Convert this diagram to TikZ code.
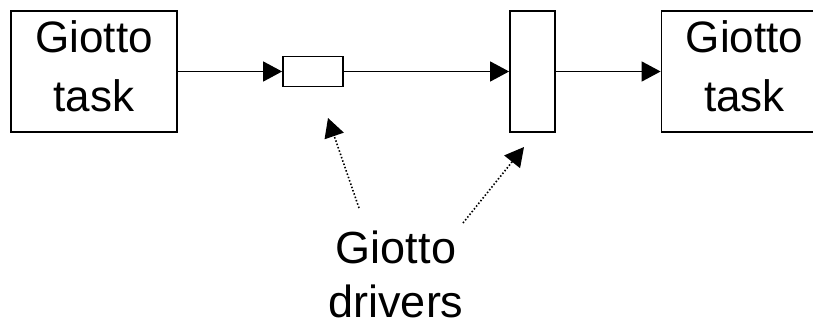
\documentclass[tikz,border=0pt]{standalone}
\usepackage{fontspec}
\setmainfont{Liberation Sans}
\usetikzlibrary{arrows.meta}

\begin{document}
\begin{tikzpicture}[x=1pt,y=1pt,
  taskbox/.style={draw, line width=1.8pt, minimum width=166pt, minimum height=121pt,
    inner sep=0pt, align=center, text depth=10pt, font=\fontsize{44}{59}\selectfont},
  drvbox/.style={draw, line width=1.8pt, inner sep=0pt},
  flow/.style={line width=1.6pt, -{Triangle[length=19pt,width=20pt]}},
  pointer/.style={line width=1.6pt, dash pattern=on 1.5pt off 2pt,
    -{Triangle[length=19pt,width=20pt]}},
  caption/.style={inner sep=0pt, align=center, font=\fontsize{45}{54}\selectfont}]
  \useasboundingbox (0,0) rectangle (813,-323);
  \clip (0,0) rectangle (813,-323);

  % tasks and drivers along the data path
  \node[taskbox] (src) at (94,-71.5) {Giotto\\task};
  \node[drvbox, minimum width=60pt, minimum height=30pt] (drvA) at (313,-71.5) {};
  \node[drvbox, minimum width=45pt, minimum height=121pt] (drvB) at (532.5,-71.5) {};
  \node[taskbox] (dst) at (744.5,-71.5) {Giotto\\task};

  \draw[flow] (src.east) -- (drvA.west);
  \draw[flow] (drvA.east) -- (drvB.west);
  \draw[flow] (drvB.east) -- (dst.west);

  % caption with dotted pointers to the drivers
  \node[caption] (lbl) at (396,-274.5) {Giotto\\drivers};
  \coordinate (tailA) at (359,-208);
  \coordinate (tipA) at (328,-118);
  \coordinate (tailB) at (463,-223);
  \coordinate (tipB) at (524,-147);
  \draw[pointer] (tailA) -- (tipA);
  \draw[pointer] (tailB) -- (tipB);
\end{tikzpicture}
\end{document}
